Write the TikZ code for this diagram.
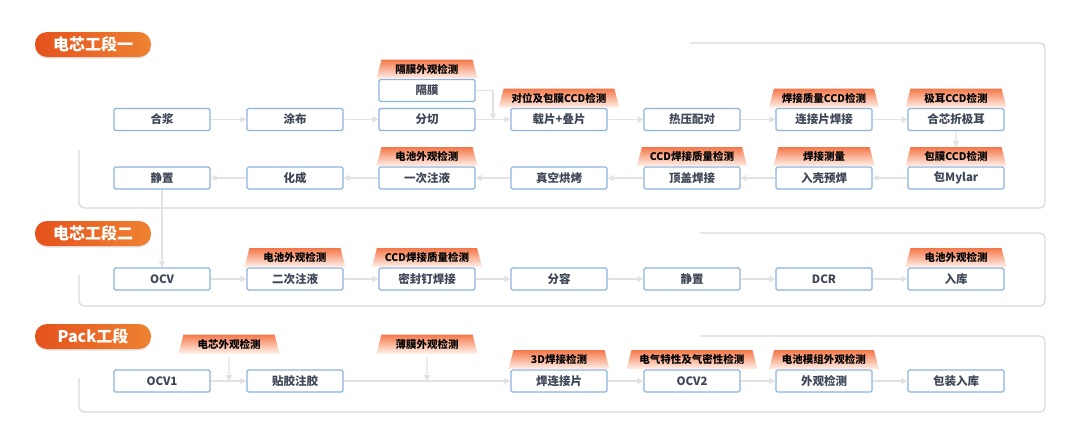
\documentclass[tikz,border=0pt]{standalone}
\usepackage{fontspec}
\setmainfont{Noto Sans CJK SC}
\usetikzlibrary{positioning,shapes.geometric,arrows.meta,shadows}
\definecolor{boxline}{HTML}{8DB3DF}
\definecolor{boxtext}{HTML}{3E4757}
\definecolor{flowgray}{HTML}{E2E2E2}
\definecolor{panelgray}{HTML}{DADADA}
\definecolor{tabtop}{HTML}{F4784A}
\definecolor{tabbot}{HTML}{FFF1EA}
\definecolor{pillL}{HTML}{E4521C}
\definecolor{pillR}{HTML}{EF8232}

\begin{document}
\begin{tikzpicture}[x=1pt,y=-1pt]
% Estilos
\tikzstyle{stage} = [rectangle, draw=boxline, line width=1.3pt, fill=white, rounded corners=1.5pt, minimum width=96pt, minimum height=22pt, inner sep=0pt, text=boxtext, font=\fontsize{11.5}{13}\selectfont\bfseries]
\tikzstyle{check} = [trapezium, trapezium left angle=64, trapezium right angle=64, trapezium stretches body, minimum width=101pt, minimum height=19pt, inner xsep=8pt, inner ysep=0pt, top color=tabtop, bottom color=tabbot, font=\fontsize{10.5}{12}\selectfont\bfseries]
\tikzstyle{flow} = [draw=flowgray, line width=1.2pt, -{Triangle[length=6pt,width=6pt]}]
\tikzstyle{panel} = [draw=panelgray, line width=1.3pt, rounded corners=5pt]
\tikzstyle{section} = [rectangle, rounded corners=12pt, left color=pillL, right color=pillR, minimum width=116pt, minimum height=25pt, text=white, font=\fontsize{16}{18}\selectfont\bfseries, drop shadow={opacity=0.2, shadow xshift=0pt, shadow yshift=-1.5pt}]

\fill[white] (0,0) rectangle (1080,442);
\useasboundingbox (0,0) rectangle (1080,442);

% Marcos de cada tramo
\draw[panel] (79,150) -- (79,208) -- (1045,208) -- (1045,43) -- (690,43);
\draw[panel] (79,275) -- (79,306) -- (1045,306) -- (1045,233) -- (700,233);
\draw[panel] (79,378) -- (79,412) -- (1045,412) -- (1045,336) -- (700,336);

% Titulos
\node[section] (sec1) at (93,44.5) {电芯工段一};
\node[section] (sec2) at (93,233.5) {电芯工段二};
\node[section] (sec3) at (93,336.5) {Pack工段};

% Tramo 1, fila superior
\node[stage] (hj) at (162,119.5) {合浆};
\node[stage] (tb) at (295,119.5) {涂布};
\node[stage] (fq) at (427,119.5) {分切};
\node[stage] (gm) at (427,90.5) {隔膜};
\node[stage] (zp) at (559,119.5) {载片+叠片};
\node[stage] (ry) at (692,119.5) {热压配对};
\node[stage] (lj) at (824,119.5) {连接片焊接};
\node[stage] (hx) at (956,119.5) {合芯折极耳};

\node[check, above=0pt of gm] (gmchk) {隔膜外观检测};
\node[check, above=0pt of zp] (zpchk) {对位及包膜CCD检测};
\node[check, above=0pt of lj] (ljchk) {焊接质量CCD检测};
\node[check, above=0pt of hx] (hxchk) {极耳CCD检测};

% Tramo 1, fila inferior
\node[stage] (jz1) at (162,178) {静置};
\node[stage] (hc) at (295,178) {化成};
\node[stage] (zy1) at (427,178) {一次注液};
\node[stage] (zk) at (559,178) {真空烘烤};
\node[stage] (dg) at (692,178) {顶盖焊接};
\node[stage] (rk) at (824,178) {入壳预焊};
\node[stage] (bm) at (956,178) {包Mylar};

\node[check, above=0pt of zy1] (zy1chk) {电池外观检测};
\node[check, above=0pt of dg] (dgchk) {CCD焊接质量检测};
\node[check, above=0pt of rk] (rkchk) {焊接测量};
\node[check, above=0pt of bm] (bmchk) {包膜CCD检测};

% Tramo 2
\node[stage] (ocv) at (162,279) {OCV};
\node[stage] (zy2) at (295,279) {二次注液};
\node[stage] (mf) at (427,279) {密封钉焊接};
\node[stage] (fr) at (559,279) {分容};
\node[stage] (jz2) at (692,279) {静置};
\node[stage] (dcr) at (824,279) {DCR};
\node[stage] (rku) at (956,279) {入库};

\node[check, above=0pt of zy2] (zy2chk) {电池外观检测};
\node[check, above=0pt of mf] (mfchk) {CCD焊接质量检测};
\node[check, above=0pt of rku] (rkuchk) {电池外观检测};

% Pack
\node[stage] (ocv1) at (162,381) {OCV1};
\node[stage] (tj) at (295,381) {贴胶注胶};
\node[stage] (hl) at (559,381) {焊连接片};
\node[stage] (ocv2) at (692,381) {OCV2};
\node[stage] (wg) at (824,381) {外观检测};
\node[stage] (bz) at (956,381) {包装入库};

\node[check] (pk1) at (229,344) {电芯外观检测};
\node[check] (pk2) at (427,344) {薄膜外观检测};
\node[check, above=0pt of hl] (hlchk) {3D焊接检测};
\node[check, above=0pt of ocv2] (ocv2chk) {电气特性及气密性检测};
\node[check, above=0pt of wg] (wgchk) {电池模组外观检测};

% Conexiones
\draw[flow] (hj) -- (tb);
\draw[flow] (tb) -- (fq);
\draw[flow] (fq) -- (zp);
\coordinate (gmjoin) at (493,119.5);
\draw[flow] (gm.east) -| (gmjoin);
\draw[flow] (zp) -- (ry);
\draw[flow] (ry) -- (lj);
\draw[flow] (lj) -- (hx);
\draw[flow] (hx) -- (bmchk);
\draw[flow] (bm) -- (rk);
\draw[flow] (rk) -- (dg);
\draw[flow] (dg) -- (zk);
\draw[flow] (zk) -- (zy1);
\draw[flow] (zy1) -- (hc);
\draw[flow] (hc) -- (jz1);
\draw[flow] (jz1) -- (ocv);

\draw[flow] (ocv) -- (zy2);
\draw[flow] (zy2) -- (mf);
\draw[flow] (mf) -- (fr);
\draw[flow] (fr) -- (jz2);
\draw[flow] (jz2) -- (dcr);
\draw[flow] (dcr) -- (rku);

\draw[flow] (ocv1) -- (tj);
\coordinate (pj1) at (229,381);
\draw[flow] ([yshift=-4pt]pk1.south) -- (pj1);
\draw[flow] (tj) -- (hl);
\coordinate (pj2) at (427,381);
\draw[flow] ([yshift=-4pt]pk2.south) -- (pj2);
\draw[flow] (hl) -- (ocv2);
\draw[flow] (ocv2) -- (wg);
\draw[flow] (wg) -- (bz);
\end{tikzpicture}
\end{document}
